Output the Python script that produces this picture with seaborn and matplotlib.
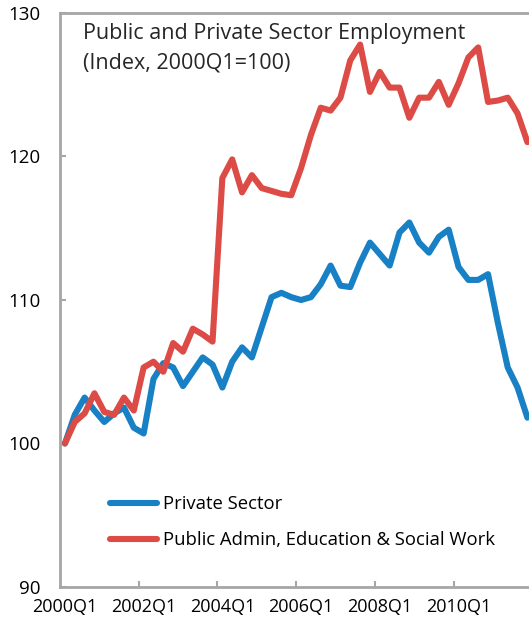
import numpy as np
import pandas as pd
import matplotlib
matplotlib.use('Agg')
import matplotlib.pyplot as plt
import seaborn as sns

# -- Data: index, 2000Q1 = 100 (quarterly, 2000Q1 .. 2011Q4) --
quarters = [f"{y}Q{q}" for y in range(2000, 2012) for q in range(1, 5)]

private_sector = [
    100.0, 102.0, 103.2, 102.3, 101.5, 102.1, 102.5, 101.1,
    100.7, 104.5, 105.6, 105.3, 104.0, 105.0, 106.0, 105.5,
    103.9, 105.7, 106.7, 106.0, 108.1, 110.2, 110.5, 110.2,
    110.0, 110.2, 111.1, 112.4, 111.0, 110.9, 112.6, 114.0,
    113.2, 112.4, 114.7, 115.4, 114.0, 113.3, 114.4, 114.9,
    112.3, 111.4, 111.4, 111.8, 108.4, 105.3, 103.9, 101.8,
]
public_sector = [
    100.0, 101.5, 102.1, 103.5, 102.2, 102.0, 103.2, 102.3,
    105.3, 105.7, 105.0, 107.0, 106.4, 108.0, 107.6, 107.1,
    118.5, 119.8, 117.5, 118.7, 117.8, 117.6, 117.4, 117.3,
    119.2, 121.5, 123.4, 123.2, 124.1, 126.7, 127.8, 124.5,
    125.9, 124.8, 124.8, 122.7, 124.1, 124.1, 125.2, 123.6,
    125.1, 126.9, 127.6, 123.8, 123.9, 124.1, 123.0, 121.0,
]
series_names = ['Private Sector', 'Public Admin, Education & Social Work']
tick_labels = ['2000Q1', '2002Q1', '2004Q1', '2006Q1', '2008Q1', '2010Q1']

df = pd.DataFrame({
    'pos': list(range(len(quarters))) * 2,
    'quarter': quarters * 2,
    'value': private_sector + public_sector,
    'series': [series_names[0]] * len(quarters) + [series_names[1]] * len(quarters),
})

sns.set_style('white')
plt.rcParams['font.family'] = ['Open Sans', 'DejaVu Sans']

W, H = 529, 631
fig = plt.figure(figsize=(W / 100, H / 100), dpi=100)
# axes box in pixels: left 60, top 13, bottom 587, one category = 9.84 px
n = len(quarters)
ax = fig.add_axes([60 / W, (H - 587) / H, n * 9.84 / W, (587 - 13) / H])

colors = {series_names[0]: '#1880c4', series_names[1]: '#dc4b45'}
sns.lineplot(data=df, x='pos', y='value', hue='series', palette=colors,
             linewidth=4.4, ax=ax, legend=True)

ax.set_xlim(-0.5, n - 0.5)
ax.set_ylim(90, 130)
ax.set_xlabel('')
ax.set_ylabel('')

grey = '#a6a6a6'
for side in ['left', 'bottom', 'top', 'right']:
    ax.spines[side].set_color(grey)
    ax.spines[side].set_linewidth(2.0)

# tick marks between categories, labels centred on categories
ax.set_xticks([i - 0.5 for i in range(8, n, 8)])
ax.set_xticklabels([])
ax.set_xticks([quarters.index(t) for t in tick_labels], minor=True)
ax.set_xticklabels(tick_labels, minor=True)
ax.tick_params(axis='x', which='major', direction='in', length=4, width=1.5,
               color=grey, bottom=True)
ax.tick_params(axis='x', which='minor', length=0, pad=8, labelsize=13,
               labelcolor='black')

ax.set_yticks(range(90, 131, 10))
ax.tick_params(axis='y', direction='in', length=4, width=1.5, color=grey,
               left=True, pad=14, labelsize=13.5, labelcolor='black')

ax.text(83 / W, 1 - 33 / H, 'Public and Private Sector Employment',
        transform=fig.transFigure, fontsize=15.5, va='center', ha='left')
ax.text(83 / W, 1 - 63 / H, '(Index, 2000Q1=100)',
        transform=fig.transFigure, fontsize=15.5, va='center', ha='left')

leg = ax.legend(loc='upper left', bbox_to_anchor=(103 / W, 1 - 488 / H),
                bbox_transform=fig.transFigure, frameon=False, fontsize=13.3,
                handlelength=2.55, handletextpad=0.3, labelspacing=0.98,
                borderaxespad=0)
for line in leg.get_lines():
    line.set_linewidth(4.4)
    line.set_solid_capstyle('round')
for txt in leg.get_texts():
    txt.set_color('black')

plt.savefig('out.png', dpi=100)
plt.close()
